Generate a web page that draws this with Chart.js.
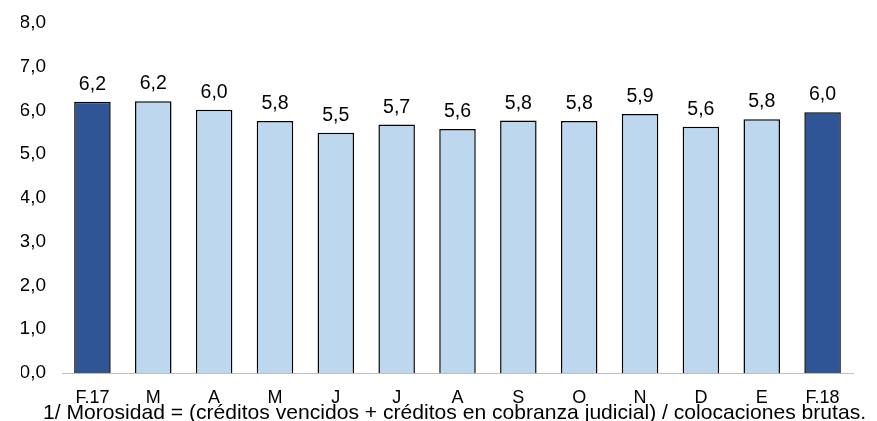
<!DOCTYPE html>
<html>
<head>
<meta charset="utf-8">
<script src="https://cdn.jsdelivr.net/npm/chart.js@4"></script>
<style>
  body { margin: 0; background: #fff; }
  #wrap { width: 877px; height: 421px; }
</style>
</head>
<body>
<div id="wrap"><canvas id="morosidadChart" width="877" height="421"></canvas></div>
<script>
const months = ['F.17', 'M', 'A', 'M', 'J', 'J', 'A', 'S', 'O', 'N', 'D', 'E', 'F.18'];
const morosidad = [6.20, 6.21, 6.02, 5.76, 5.49, 5.68, 5.58, 5.77, 5.76, 5.92, 5.63, 5.80, 5.96];
const yTicks = [0, 1, 2, 3, 4, 5, 6, 7, 8];
const footnote = '1/ Morosidad = (créditos vencidos + créditos en cobranza judicial) / colocaciones brutas.';

const darkBlue = '#2F5597';
const lightBlue = '#BDD7EE';
const fontFamily = '"Liberation Sans", Arial, sans-serif';

const fmt = v => v.toFixed(1).replace('.', ',');

const barColors = months.map((m, i) => (i === 0 || i === months.length - 1) ? darkBlue : lightBlue);

// value labels above each bar
const valueLabels = {
  id: 'valueLabels',
  afterDatasetsDraw(chart) {
    const ctx = chart.ctx;
    const meta = chart.getDatasetMeta(0);
    ctx.save();
    ctx.font = '19.5px ' + fontFamily;
    ctx.fillStyle = '#000';
    ctx.textAlign = 'center';
    ctx.textBaseline = 'alphabetic';
    meta.data.forEach((bar, i) => {
      ctx.fillText(fmt(morosidad[i]), bar.x, bar.y - 12);
    });
    ctx.restore();
  }
};

// footnote under the axis (overlaps the month labels like the original)
const footnoteText = {
  id: 'footnoteText',
  afterDraw(chart) {
    const ctx = chart.ctx;
    ctx.save();
    ctx.font = '21.1px ' + fontFamily;
    ctx.fillStyle = '#000';
    ctx.textAlign = 'left';
    ctx.textBaseline = 'alphabetic';
    ctx.fillText(footnote, 43, 419);
    ctx.restore();
  }
};

new Chart(document.getElementById('morosidadChart'), {
  type: 'bar',
  data: {
    labels: months,
    datasets: [{
      data: morosidad,
      backgroundColor: barColors,
      borderColor: '#000',
      borderWidth: 1.5,
      barPercentage: 0.6,
      categoryPercentage: 1
    }]
  },
  options: {
    responsive: false,
    animation: false,
    layout: { padding: { left: 21, right: 24, top: 23, bottom: 0 } },
    plugins: {
      legend: { display: false },
      tooltip: { enabled: false }
    },
    scales: {
      x: {
        afterFit(axis) { axis.height = 48; },
        grid: { display: false, drawTicks: false },
        border: { display: true, color: '#BFBFBF', width: 1 },
        ticks: {
          color: '#000',
          font: { family: fontFamily, size: 18 },
          padding: 14,
          maxRotation: 0,
          autoSkip: false
        }
      },
      y: {
        min: 0,
        max: 8,
        afterBuildTicks(axis) {
          axis.ticks = yTicks.map(v => ({ value: v }));
        },
        afterFit(axis) {
          axis.width = 41;
          axis.paddingTop = 0;
          axis.paddingBottom = 0;
        },
        grid: { display: false, drawTicks: false },
        border: { display: false },
        ticks: {
          color: '#000',
          font: { family: fontFamily, size: 19 },
          padding: 16,
          callback: v => fmt(v)
        }
      }
    }
  },
  plugins: [valueLabels, footnoteText]
});
</script>
</body>
</html>
